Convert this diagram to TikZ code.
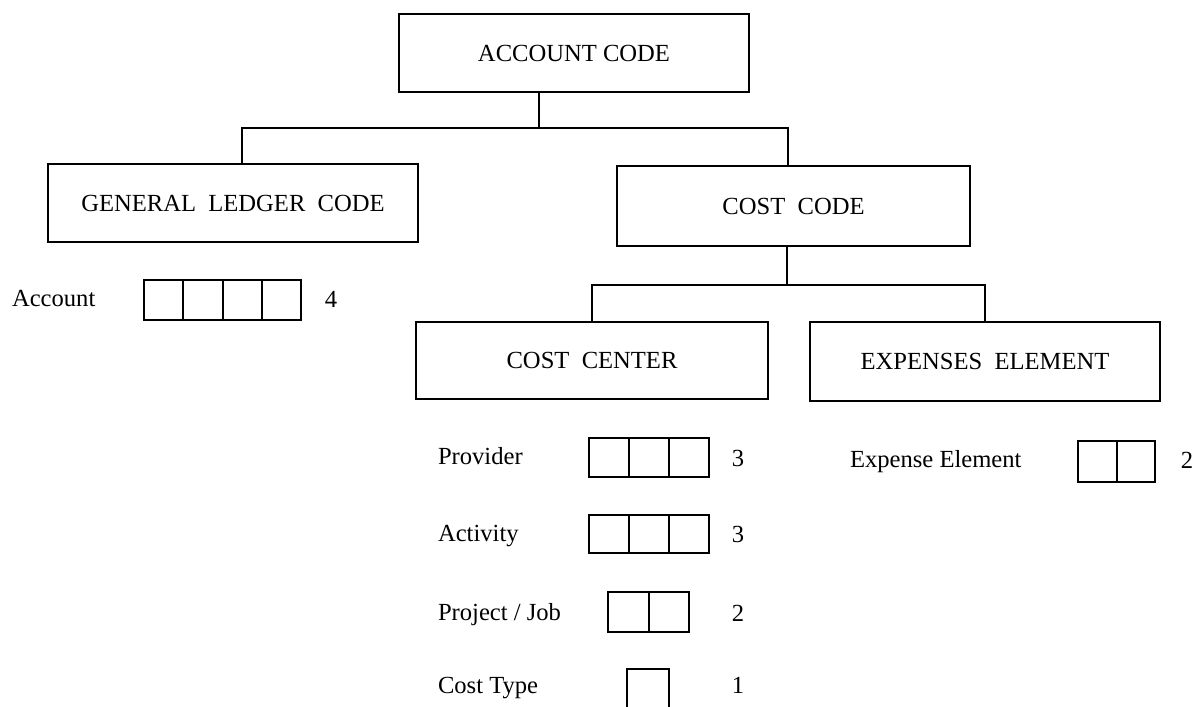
\documentclass[tikz,border=0pt]{standalone}
\usepackage{fontspec}
\setmainfont{Liberation Serif}
\usetikzlibrary{positioning}

\begin{document}
\begin{tikzpicture}[x=0.5pt, y=-0.5pt, line width=1pt,
  font=\fontsize{12.3}{14.8}\selectfont,
  box/.style={draw, rectangle, inner sep=0pt, minimum height=39pt},
  cell/.style={draw, rectangle, inner sep=0pt},
  lbl/.style={anchor=base west, inner sep=0pt},
  num/.style={anchor=base, inner sep=0pt}]

  \useasboundingbox (0,0) rectangle (1197,706);

  %% #1 name, #2 left x, #3 mid y, #4 count, #5 cell width, #6 cell height
  \newcommand\cellrow[6]{%
    \foreach \i in {1,...,#4}
      \node[cell, minimum width=#5*0.5pt, minimum height=#6*0.5pt]
        (#1\i) at ({#2+(\i-0.5)*#5}, #3) {};}

  % the code boxes
  \node[box, minimum width=175pt] (acc) at (574, 53) {ACCOUNT CODE};
  \node[box, minimum width=185pt] (glc) at (233, 203) {GENERAL\ \ LEDGER\ \ CODE};
  \node[box, minimum width=176.5pt, minimum height=40pt] (cost) at (793.5, 206) {COST\ \ CODE};
  \node[box, minimum width=176pt, minimum height=38.5pt] (ccen) at (592, 360.5) {COST\ \ CENTER};
  \node[box, minimum width=175pt, minimum height=39.5pt] (exp) at (985, 361.5) {EXPENSES\ \ ELEMENT};

  % tree lines
  \coordinate (jA) at (539, 128);
  \draw (jA |- acc.south) -- (jA);
  \draw ([xshift=4.5pt]glc.north) |- (jA) -| ([xshift=-2.75pt]cost.north);

  \coordinate (jB) at (787, 285);
  \draw (jB |- cost.south) -- (jB);
  \draw (ccen.north) |- (jB) -| (exp.north);

  % digit fields
  \node[lbl] (lacc) at (11, 306) {Account};
  \cellrow{acc}{144}{300}{4}{39.25}{40}
  \node[num] (nacc) at (331, 307) {4};

  \node[lbl] (lprov) at (437, 464) {Provider};
  \cellrow{prov}{589}{457.5}{3}{40}{39}
  \node[num] (nprov) at (738, 466) {3};

  \node[lbl] (lact) at (437, 541) {Activity};
  \cellrow{act}{589}{534}{3}{40}{38}
  \node[num] (nact) at (738, 542) {3};

  \node[lbl] (lproj) at (437, 620) {Project / Job};
  \cellrow{proj}{608}{612}{2}{40.5}{40}
  \node[num] (nproj) at (738, 621) {2};

  \node[lbl] (ltype) at (437, 693) {Cost Type};
  \cellrow{type}{627}{689}{1}{42}{40}
  \node[num] (ntype) at (738, 693) {1};

  \node[lbl] (lexp) at (849, 467) {Expense Element};
  \cellrow{exp}{1078}{461.5}{2}{38.5}{41}
  \node[num] (nexp) at (1187, 468) {2};
\end{tikzpicture}
\end{document}
